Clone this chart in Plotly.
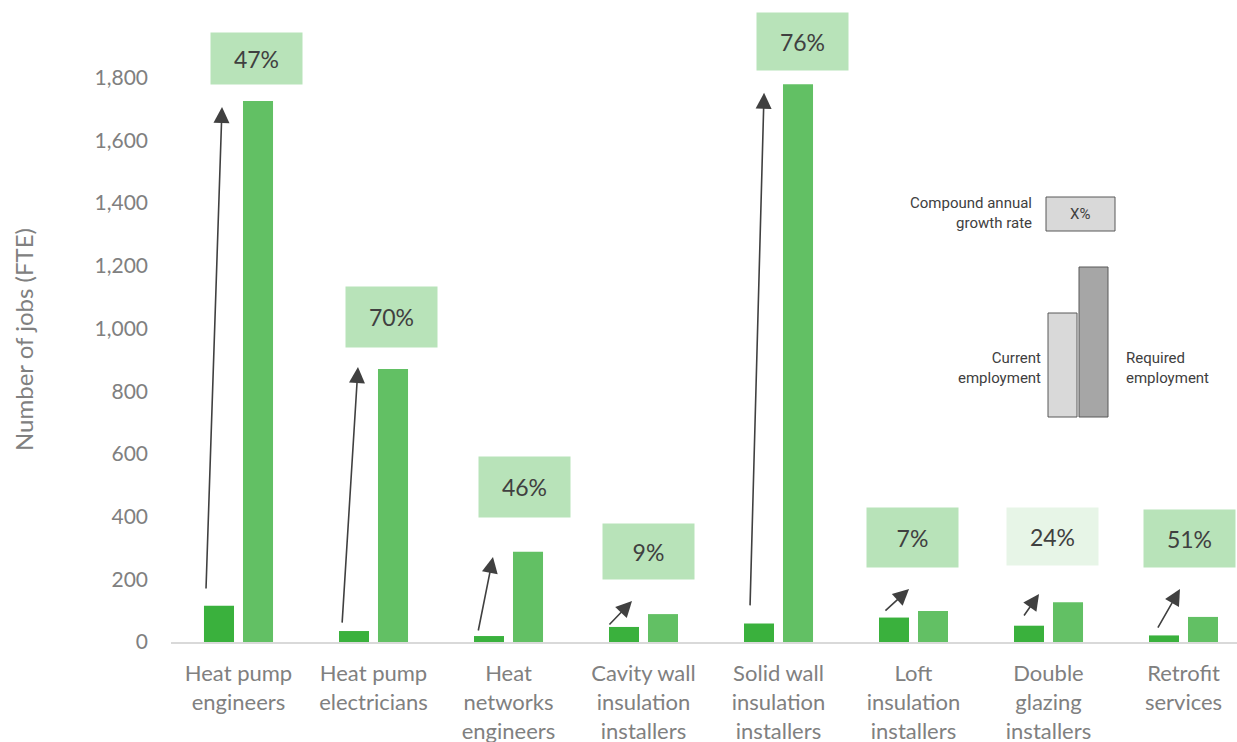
import plotly.graph_objects as go

# ---- data -------------------------------------------------------------
categories = [
    "Heat pump<br>engineers",
    "Heat pump<br>electricians",
    "Heat<br>networks<br>engineers",
    "Cavity wall<br>insulation<br>installers",
    "Solid wall<br>insulation<br>installers",
    "Loft<br>insulation<br>installers",
    "Double<br>glazing<br>installers",
    "Retrofit<br>services",
]
current_employment = [116, 35, 19, 48, 59, 78, 52, 21]
required_employment = [1726, 871, 288, 89, 1779, 99, 127, 80]
growth_rate_labels = ["47%", "70%", "46%", "9%", "76%", "7%", "24%", "51%"]
y_tick_values = [0, 200, 400, 600, 800, 1000, 1200, 1400, 1600, 1800]

# ---- label / arrow placement (category offset, data-unit heights) ------
label_dx = [0.133, 0.133, 0.115, 0.04, 0.178, -0.011, 0.03, 0.044]
label_y = [1861, 1037, 494, 289, 1915, 333, 337, 330]
label_h = [51, 60, 60, 55, 57, 59, 57, 57]
label_fill = ["#b8e3b9"] * 6 + ["#e7f5e7", "#b8e3b9"]

arrow_tail_dx = [-0.241, -0.233, -0.226, -0.263, -0.211, -0.219, -0.189, -0.196]
arrow_tail_y = [166, 57, 32, 51, 112, 96, 80, 41]
arrow_head_dx = [-0.122, -0.115, -0.115, -0.085, -0.107, -0.033, -0.070, -0.026]
arrow_head_y = [1707, 877, 271, 131, 1752, 169, 153, 169]

# ---- geometry -----------------------------------------------------------
W, H = 1237, 742
L, R, T, B = 171, 0, 0, 100
PLOT_W = W - L - R
PLOT_H = H - T - B
Y_MAX = 2048

FONT = "Lato"
DARK = "#404040"
GREY = "#808080"

x_idx = list(range(len(categories)))

fig = go.Figure()
fig.add_trace(go.Bar(
    x=x_idx, y=current_employment, name="Current employment",
    marker=dict(color="#3ab13d", line=dict(width=0)),
))
fig.add_trace(go.Bar(
    x=x_idx, y=required_employment, name="Required employment",
    marker=dict(color="#62c064", line=dict(width=0)),
))

annotations = []
shapes = []

# growth-rate boxes
for i, txt in enumerate(growth_rate_labels):
    annotations.append(dict(
        x=i + label_dx[i], y=label_y[i], xref="x", yref="y",
        text=txt, showarrow=False, xanchor="center", yanchor="middle",
        width=91, height=label_h[i], bgcolor=label_fill[i], borderpad=0,
        font=dict(family=FONT, size=23, color=DARK),
    ))

# growth arrows
for i in x_idx:
    annotations.append(dict(
        x=i + arrow_head_dx[i], y=arrow_head_y[i], xref="x", yref="y",
        ax=i + arrow_tail_dx[i], ay=arrow_tail_y[i], axref="x", ayref="y",
        text="", showarrow=True, arrowhead=2, arrowsize=2.0, arrowwidth=1.6,
        arrowcolor=DARK, standoff=0, startstandoff=0,
    ))


def px(xp):
    return (xp - L) / PLOT_W


def py(yp):
    return (H - B - yp) / PLOT_H


# key panel
key_line = dict(color="#595959", width=1)
shapes.append(dict(type="rect", xref="paper", yref="paper",
                   x0=px(1046), x1=px(1115), y0=py(231), y1=py(197),
                   fillcolor="#d9d9d9", line=key_line))
shapes.append(dict(type="rect", xref="paper", yref="paper",
                   x0=px(1048), x1=px(1077), y0=py(417), y1=py(313),
                   fillcolor="#d9d9d9", line=key_line))
shapes.append(dict(type="rect", xref="paper", yref="paper",
                   x0=px(1079), x1=px(1108), y0=py(417), y1=py(267),
                   fillcolor="#a6a6a6", line=key_line))

key_font = dict(family="Roboto", size=15, color=DARK)
annotations += [
    dict(x=px(1080), y=py(214), xref="paper", yref="paper", text="X%",
         showarrow=False, xanchor="center", yanchor="middle", font=key_font),
    dict(x=px(1034), y=py(213), xref="paper", yref="paper",
         text="Compound annual<br>growth rate", align="right",
         showarrow=False, xanchor="right", yanchor="middle", font=key_font),
    dict(x=px(1043), y=py(368), xref="paper", yref="paper",
         text="Current<br>employment", align="right",
         showarrow=False, xanchor="right", yanchor="middle", font=key_font),
    dict(x=px(1124), y=py(368), xref="paper", yref="paper",
         text="Required<br>employment", align="left",
         showarrow=False, xanchor="left", yanchor="middle", font=key_font),
]

# y-axis title
annotations.append(dict(
    x=px(23), y=py(340), xref="paper", yref="paper",
    text="Number of jobs (FTE)", textangle=-90, showarrow=False,
    xanchor="center", yanchor="middle",
    font=dict(family=FONT, size=24, color=GREY),
))

fig.update_layout(
    width=W, height=H,
    margin=dict(l=L, r=R, t=T, b=B, pad=0, autoexpand=False),
    paper_bgcolor="white", plot_bgcolor="white",
    barmode="group", bargap=0.422, bargroupgap=0.23,
    showlegend=False,
    annotations=annotations, shapes=shapes,
    xaxis=dict(
        tickmode="array", tickvals=x_idx, ticktext=categories,
        range=[-0.5, -0.5 + PLOT_W / 135.0],
        showline=True, linecolor="#d9d9d9", linewidth=2,
        showgrid=False, zeroline=False, ticks="",
        ticklabelstandoff=11, automargin=False,
        tickfont=dict(family=FONT, size=22, color=GREY),
        fixedrange=True,
    ),
    yaxis=dict(
        range=[0, Y_MAX], tickmode="array", tickvals=y_tick_values,
        tickformat=",d",
        showgrid=False, zeroline=False, showline=False, ticks="",
        ticklabelstandoff=22, automargin=False,
        tickfont=dict(family=FONT, size=21, color=GREY),
        fixedrange=True,
    ),
)

fig.write_html("out.html")
